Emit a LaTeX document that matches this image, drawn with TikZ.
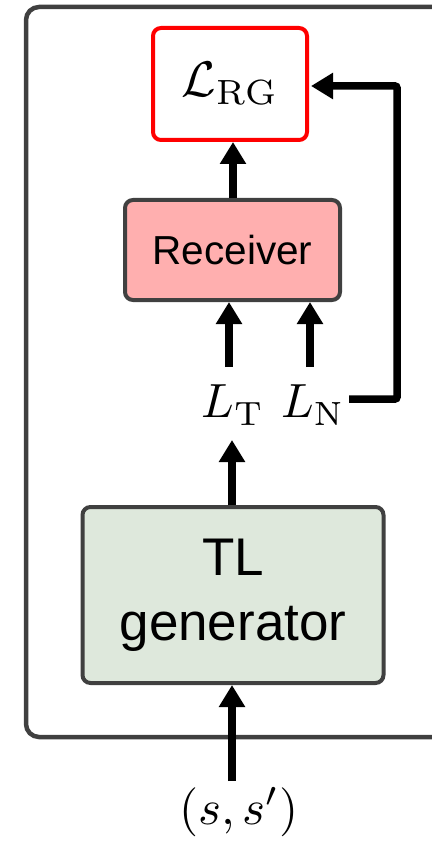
\documentclass[tikz,border=0pt]{standalone}
\usepackage{graphicx}
\usepackage{fontspec}
\newfontfamily\arialfont{Liberation Sans}
\usetikzlibrary{arrows.meta}
\definecolor{frameGray}{HTML}{404040}
\definecolor{lossRed}{HTML}{FF0000}
\definecolor{recvPink}{HTML}{FFAFAF}
\definecolor{genGreen}{HTML}{DEE8DC}
\tikzset{
  block/.style={draw=frameGray, line width=4pt, rounded corners=8pt, align=center,
                inner sep=0pt, font=\arialfont},
  flow/.style={line width=7.5pt, -{Triangle[width=25pt,length=22pt]}},
  mathlbl/.style={inner sep=0pt},
}
\begin{document}
\begin{tikzpicture}[x=1pt,y=-1pt]
  \useasboundingbox (0,0) rectangle (431,842);
  % enclosing frame (runs off the right edge)
  \draw[frameGray, line width=4.5pt, rounded corners=13pt] (26,7) rectangle (460,737);

  % blocks
  \node[block, draw=lossRed, fill=white, minimum width=154pt, minimum height=112pt]
    (rg) at (230,84) {\scalebox{5.0}{$\mathcal{L}_{\mathrm{RG}}$}};
  \node[block, fill=recvPink, minimum width=215pt, minimum height=100pt,
        font=\arialfont\fontsize{40.5}{48}\selectfont]
    (recv) at (232.5,250) {Receiver};
  \node[block, fill=genGreen, minimum width=301pt, minimum height=176pt,
        font=\arialfont\fontsize{53}{62}\selectfont]
    (gen) at (233,595) {TL\\[3pt]generator};

  % labels
  \node[mathlbl] (lt) at (233,405) {\scalebox{4.8}{$L_{\mathrm{T}}$}};
  \node[mathlbl] (ln) at (313,405) {\scalebox{4.8}{$L_{\mathrm{N}}$}};
  \node[mathlbl] (ss) at (239,812) {\scalebox{4.9}{$(s,s')$}};

  \coordinate (ltTail) at (229,367);
  \coordinate (lnTail) at (310,367);
  \coordinate (ssTail) at (232,781);
  \coordinate (fbStart) at (349,399);
  \coordinate (fbCorner) at (397,399);

  % connectors
  \draw[flow] (recv.north -| 233,0) -- (rg.south -| 233,0);
  \draw[flow] (ltTail) -- (ltTail |- recv.south);
  \draw[flow] (lnTail) -- (lnTail |- recv.south);
  \draw[flow] (gen.north -| 232,0) -- (232,440);
  \draw[flow] (ssTail) -- (ssTail |- gen.south);
  \draw[line width=7.5pt, rounded corners=2pt, -{Triangle[width=25pt,length=22pt]}]
    (fbStart) -- (fbCorner) |- ([xshift=2pt]rg.east |- 0,86);
\end{tikzpicture}
\end{document}
